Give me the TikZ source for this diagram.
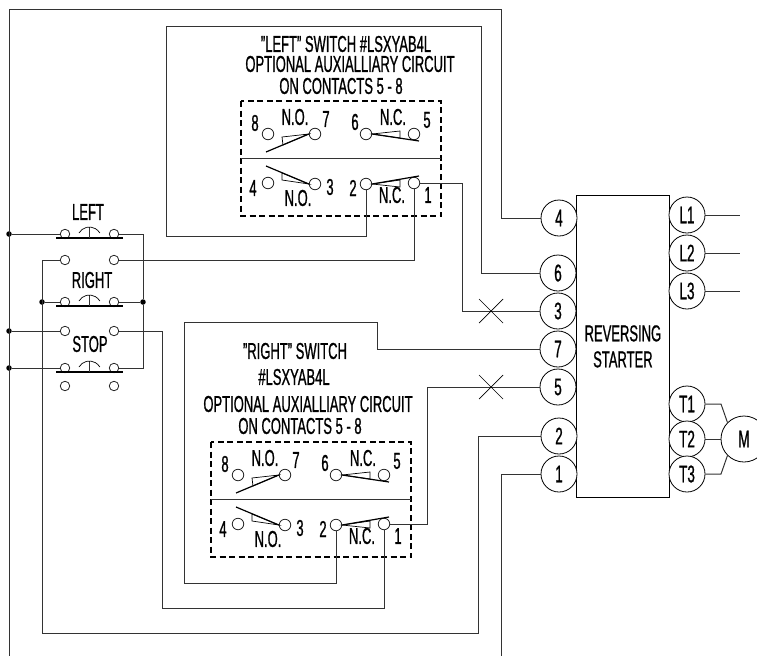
\documentclass[tikz,border=0pt]{standalone}
\usepackage{fontspec}
\setmainfont[FakeStretch=0.565,FakeBold=0.8]{Liberation Sans}
\usetikzlibrary{positioning,shapes,arrows}

\tikzset{
  wire/.style={line width=1pt,draw=black!80},
  term/.style={draw=black,line width=0.8pt,circle,fill=white,minimum size=36pt,inner sep=0pt,font=\fontsize{24}{24}\selectfont},
  pad/.style={draw=black!85,line width=0.8pt,circle,fill=white,minimum size=9.5pt,inner sep=0pt},
  auxpad/.style={draw=black!85,line width=0.8pt,circle,fill=white,minimum size=11.5pt,inner sep=0pt},
  tag/.style={inner sep=0pt,font=\fontsize{23}{23}\selectfont},
  dot/.style={circle,fill=black,minimum size=5.5pt,inner sep=0pt},
  lever/.style={line width=1.2pt,draw=black},
  wedge/.style={line width=.7pt,draw=black},
  auxbox/.pic={
    \draw[line width=1.2pt,dash pattern=on 6pt off 3.5pt] (0,0) rectangle (200,115);
    \draw[wire] (0,57) -- (200,57);
    \node[auxpad] (-c8) at (27,33) {};
    \node[auxpad] (-c7) at (74,33) {};
    \node[auxpad] (-c6) at (125,33) {};
    \node[auxpad] (-c5) at (173,33) {};
    \node[auxpad] (-c4) at (27,82) {};
    \node[auxpad] (-c3) at (74,83) {};
    \node[auxpad] (-c2) at (125,83) {};
    \node[auxpad] (-c1) at (173,82) {};
    \draw[lever] (-c7.west) -- (25,51);
    \draw[wedge] (-c7.west) -- (41,36) -- (42,44) -- cycle;
    \draw[lever] (-c6.east) -- (178,40);
    \draw[wedge] (-c6.east) -- (159,30) -- (159,37) -- cycle;
    \draw[lever] (-c3.west) -- (25,65);
    \draw[wedge] (-c3.west) -- (41,72) -- (41,79) -- cycle;
    \draw[lever] (-c2.east) -- (178,75);
    \draw[wedge] (-c2.east) -- (159,79) -- (159,86) -- cycle;
    \foreach \n/\x/\y/\t in {a/14/22/8,b/85/18/7,c/114/21/6,d/186/19/5,e/12/87/4,f/89/86/3,g/112/87/2,h/187/94/1,i/54/16/N.O.,j/152/16/N.C.,k/57/97/N.O.,l/151/94/N.C.}
      \node[tag] (-t\n) at (\x,\y) {\t};
  }
}

\newcommand{\pushbutton}[3]{%
  \node[pad] (#1l) at (65,#2) {};
  \node[pad] (#1r) at (114,#2) {};
  \draw[line width=1.4pt] (56,#3) -- (123,#3);
  \draw[wire] (89,#3) -- ++(0,-11);
  \draw[line width=.7pt] (79,#3-5) arc[start angle=210,end angle=330,radius=12];
}

\begin{document}
\begin{tikzpicture}[x=1pt,y=-1pt]
\useasboundingbox (0,0) rectangle (757,656);

% starter
\node[draw=black,line width=0.8pt,minimum width=93pt,minimum height=302pt,inner sep=0pt,anchor=north west,
      font=\fontsize{23}{26}\selectfont,align=center] (starter) at (576,195) {REVERSING\\STARTER};

% terminals on the starter
\node[term] (P4) at (559,218) {4};
\node[term] (P6) at (558,273) {6};
\node[term] (P3) at (558,311) {3};
\node[term] (P7) at (558,349) {7};
\node[term] (P5) at (558,387) {5};
\node[term] (P2) at (559,436) {2};
\node[term] (P1) at (559,474) {1};

\node[term] (L1) at (687,215) {L1};
\node[term] (L2) at (687,253) {L2};
\node[term] (L3) at (687,291) {L3};
\node[term] (T1) at (687,404) {T1};
\node[term] (T2) at (687,439) {T2};
\node[term] (T3) at (687,474) {T3};
\node[term,minimum size=46pt] (M) at (744,439) {M};

\coordinate (L1e) at (740,215);
\coordinate (L2e) at (740,253);
\coordinate (L3e) at (740,291);
\draw[wire] (L1) -- (L1e);
\draw[wire] (L2) -- (L2e);
\draw[wire] (L3) -- (L3e);
\draw[wire] (T1) -- (721,404) -- (M.135);
\draw[wire] (T2) -- (M);
\draw[wire] (T3) -- (721,474) -- (M.225);

% switches
\pic (Lsw) at (241,101) {auxbox};
\pic (Rsw) at (211,442) {auxbox};

\node[tag] (Lt1) at (346,44) {"LEFT" SWITCH \#LSXYAB4L};
\node[tag] (Lt2) at (350,64) {OPTIONAL AUXIALLIARY CIRCUIT};
\node[tag] (Lt3) at (341,86) {ON CONTACTS 5 - 8};
\node[tag] (Rt1) at (295,351) {"RIGHT" SWITCH};
\node[tag] (Rt2) at (294,377) {\#LSXYAB4L};
\node[tag] (Rt3) at (308,404) {OPTIONAL AUXIALLIARY CIRCUIT};
\node[tag] (Rt4) at (300,426) {ON CONTACTS 5 - 8};

% buttons
\pushbutton{left}{234}{238}
\pushbutton{rightno}{302}{306}
\pushbutton{stopno}{368}{372}
\node[pad] (rightl) at (65,260) {};
\node[pad] (rightr) at (114,260) {};
\node[pad] (stopl) at (65,331) {};
\node[pad] (stopr) at (114,331) {};
\node[pad] (sparel) at (65,386) {};
\node[pad] (sparer) at (114,386) {};
\node[tag] (leftt) at (88,212) {LEFT};
\node[tag] (rightt) at (92,280) {RIGHT};
\node[tag] (stopt) at (90,344) {STOP};

\node[dot] (d1) at (9,234) {};
\node[dot] (d2) at (9,331) {};
\node[dot] (d3) at (9,368) {};
\node[dot] (d4) at (42,302) {};
\node[dot] (d5) at (143,302) {};

% wiring
\draw[wire] (P4) -| (501,9) -| (9,656);
\draw[wire] (d1) -- (leftl);
\draw[wire] (d2) -- (stopl);
\draw[wire] (d3) -- (stopnol);
\draw[wire] (leftr) -| (d5) |- (stopnor);
\draw[wire] (d5) -- (rightnor);
\draw[wire] (d4) -- (rightnol);
\draw[wire] (rightl) -| (42,633) -| (478,436) -- (P2);
\draw[wire] (rightr) -| (Lsw-c1);
\draw[wire] (stopr) -| (162,608) -| (Rsw-c1);
\draw[wire] (Lsw-c2) |- (166,236) |- (481,26) |- (P6);
\draw[wire] (Lsw-c1) -| (462,311) -- (P3);
\draw[wire] (Rsw-c2) |- (184,583) |- (377,322) |- (P7);
\draw[wire] (Rsw-c1) -| (427,387) -- (P5);
\draw[wire] (P1) -| (501,656);

% crossed out
\draw[wedge] (479,299) -- (503,323);
\draw[wedge] (479,323) -- (503,299);
\draw[wedge] (479,375) -- (503,399);
\draw[wedge] (479,399) -- (503,375);

\end{tikzpicture}
\end{document}
